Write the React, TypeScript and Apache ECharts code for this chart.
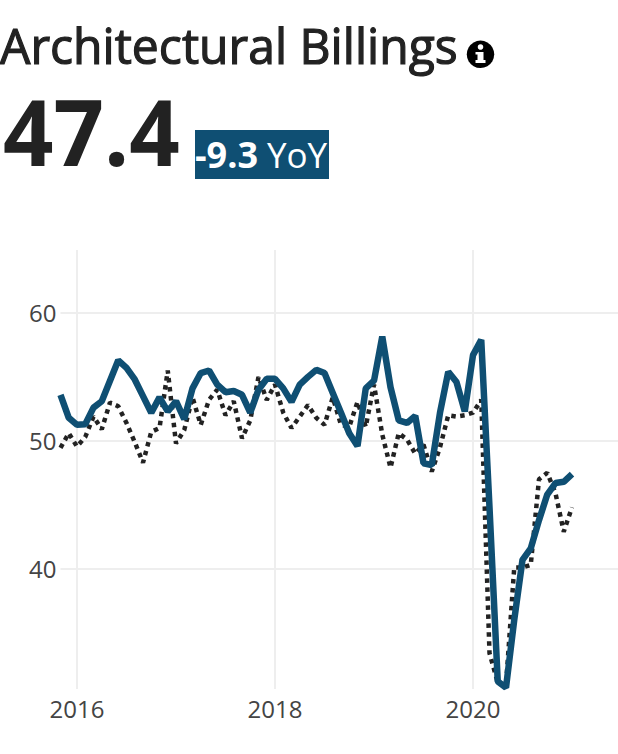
import React, { useEffect, useRef } from "react";
import * as echarts from "echarts";

const startYear = 2015;
const startMonth = 11;
const billings = [53.6,51.8,51.25,51.3,52.6,53.1,54.7,56.3,55.7,54.8,53.5,52.2,53.4,52.3,53.1,51.7,54.1,55.3,55.5,54.4,53.8,53.9,53.6,52.2,54.0,54.85,54.85,54.1,53.05,54.4,55.0,55.55,55.3,53.75,52.2,50.6,49.6,54.1,54.7,58.15,54.2,51.6,51.4,51.95,48.25,48.1,52.2,55.4,54.6,52.3,56.7,57.9,44.8,31.2,30.7,36,40.7,41.6,43.8,45.8,46.7,46.8,47.4];
const priorYear = [49.45,50.6,49.55,50.3,51.9,50.9,53,52.7,51.4,49.9,48.3,50.7,51,55.5,49.8,50.85,53.4,51.25,53.2,54,52,53.1,50.2,51.6,55,53.2,54.4,52.2,51,51.9,52.8,51.8,51.25,53.4,51.25,51.1,53.05,51.1,54.4,50.5,47.9,50.6,50.1,49,49.7,47.6,49.5,52,51.9,52,52.2,53.2,33.4,31.1,30.9,40.1,40.1,40.3,47,47.5,45.9,42.9,44.8];
const xTickYears = ["2016-01", "2018-01", "2020-01"];
const yTicks = [40, 50, 60];
const titleText = "Architectural Billings";
const bigValue = "47.4";
const deltaValue = "-9.3";
const deltaUnit = "YoY";
const monthCount = 69;

function monthKey(i: number) {
  const m = startMonth - 1 + i;
  const y = startYear + Math.floor(m / 12);
  const mm = (m % 12) + 1;
  return `${y}-${String(mm).padStart(2, "0")}`;
}
const months = Array.from({ length: monthCount }, (_, i) => monthKey(i));

const FONT = "'Open Sans', sans-serif";
const BLUE = "#0f4f73";
const DARK = "#222222";
const isTick = (_: number, v: string) => xTickYears.includes(v);

export default function App() {
  const ref = useRef<HTMLDivElement>(null);
  useEffect(() => {
    document.body.style.margin = "0";
    const chart = echarts.init(ref.current!, undefined, { renderer: "svg" });
    chart.setOption({
      animation: false,
      grid: { left: 60.5, width: 561, top: 250, height: 439, outerBoundsMode: "none" },
      xAxis: {
        type: "category",
        boundaryGap: false,
        data: months,
        axisLine: { show: false },
        axisTick: { show: false },
        splitLine: { show: true, interval: isTick, lineStyle: { color: "#eeeeee", width: 2 } },
        axisLabel: {
          interval: isTick,
          formatter: (v: string) => v.slice(0, 4),
          color: "#444444",
          fontFamily: FONT,
          fontSize: 24,
          margin: 7,
        },
      },
      yAxis: {
        type: "value",
        min: 30.6,
        max: 64.92,
        axisLine: { show: false },
        axisTick: { show: false, customValues: yTicks },
        splitLine: { show: true, lineStyle: { color: "#eeeeee", width: 2 } },
        axisLabel: {
          customValues: yTicks,
          color: "#444444",
          fontFamily: FONT,
          fontSize: 24,
          margin: 4,
        },
      },
      series: [
        {
          name: "Prior year",
          type: "line",
          showSymbol: false,
          silent: true,
          data: priorYear,
          lineStyle: { color: DARK, width: 4.5, type: [4.5, 4.5] },
          z: 2,
        },
        {
          name: "Billings",
          type: "line",
          showSymbol: false,
          silent: true,
          data: billings,
          lineStyle: { color: BLUE, width: 6.5 },
          z: 3,
        },
      ],
      graphic: [
        { type: "text", x: 0, y: 20, scaleX: 0.962, style: { text: titleText, font: `50px ${FONT}`, fill: DARK, stroke: DARK, lineWidth: 1.2 } },
        { type: "circle", shape: { cx: 480.5, cy: 54.3, r: 13.7 }, style: { fill: "#000" } },
        { type: "circle", shape: { cx: 480.5, cy: 47, r: 2.8 }, style: { fill: "#fff" } },
        { type: "rect", shape: { x: 477.5, y: 52, width: 6, height: 10 }, style: { fill: "#fff" } },
        { type: "rect", shape: { x: 475.5, y: 60, width: 10, height: 3 }, style: { fill: "#fff" } },
        { type: "rect", shape: { x: 475.5, y: 52, width: 4, height: 2.5 }, style: { fill: "#fff" } },
        { type: "text", x: 3, y: 84, scaleX: 0.96, style: { text: bigValue, font: `bold 92px ${FONT}`, fill: DARK } },
        { type: "rect", shape: { x: 195, y: 130, width: 134, height: 49 }, style: { fill: BLUE } },
        { type: "text", x: 195, y: 154, style: { text: deltaValue, font: `bold 36px ${FONT}`, fill: "#fff", verticalAlign: "middle" } },
        { type: "text", x: 267, y: 154, style: { text: deltaUnit, font: `35px ${FONT}`, fill: "#fff", verticalAlign: "middle" } },
      ],
    });
    return () => chart.dispose();
  }, []);
  return <div ref={ref} style={{ width: 618, height: 754 }} />;
}
